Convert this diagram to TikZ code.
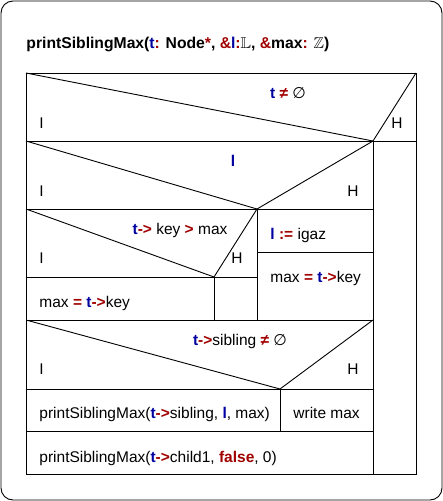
\documentclass[tikz,border=0pt]{standalone}
\usepackage{amssymb}
\usepackage{fontspec}
\setmainfont{Liberation Sans}
\newfontfamily\dvfont{DejaVu Sans}
\definecolor{kb}{RGB}{0,0,160}
\definecolor{kr}{RGB}{160,0,0}
\newcommand\kB[1]{\textcolor{kb}{\bfseries #1}}
\newcommand\kR[1]{\textcolor{kr}{\bfseries #1}}
\newcommand\emptyS{{\dvfont\char"2205}}
\begin{document}
\begin{tikzpicture}[x=1pt,y=-1pt, line width=0.9pt,
  txt/.style={inner sep=0pt, anchor=base west, font=\fontsize{15.5}{18}\selectfont},
  ctxt/.style={txt, anchor=base},
  etxt/.style={txt, anchor=base east}]
\useasboundingbox (0,0) rectangle (443,501);
\draw[rounded corners=12pt] (1,1) rectangle (442,500);
\node[txt, font=\fontsize{15.7}{19}\selectfont\bfseries] (title) at (26,48)
  {printSiblingMax(\textcolor{kb}{t}\textcolor{kr}{:} Node\textcolor{kr}{*}, \textcolor{kr}{\&}\textcolor{kb}{l}\textcolor{kr}{:}$\mathbb{L}$, \textcolor{kr}{\&}max\textcolor{kr}{:} $\mathbb{Z}$)};
% frame
\draw (26,73) rectangle (416,474);
% row 1
\draw (26,73) -- (373,141) -- (416,73);
\draw (26,141) -- (416,141);
\draw (373,141) -- (373,474);
% row 2
\draw (26,141) -- (257,209) -- (373,141);
\draw (26,209) -- (373,209);
% row 3
\draw (26,209) -- (214,277) -- (257,209);
\draw (26,277) -- (257,277);
\draw (214,277) -- (214,320);
\draw (257,209) -- (257,320);
\draw (257,252) -- (373,252);
\draw (26,320) -- (373,320);
% row 4
\draw (26,320) -- (280,389) -- (373,320);
\draw (26,389) -- (373,389);
\draw (280,389) -- (280,431);
\draw (26,431) -- (373,431);
% texts
\node[ctxt] (c1) at (288,98) {\kB{t} \kR{≠} \emptyS};
\node[txt] (i1) at (39,128) {I};
\node[etxt] (h1) at (403,128) {H};
\node[ctxt] (c2) at (233,166) {\kB{l}};
\node[txt] (i2) at (39,196) {I};
\node[etxt] (h2) at (359,196) {H};
\node[ctxt] (c3) at (180,234) {\kB{t}\kR{->} key \kR{>} max};
\node[txt] (i3) at (39,263) {I};
\node[etxt] (h3) at (243,263) {H};
\node[txt] (m1) at (39,307) {max \kR{=} \kB{t}\kR{->}key};
\node[txt] (l1) at (270,239) {\kB{l} \kR{:=} igaz};
\node[txt] (m2) at (270,282) {max \kR{=} \kB{t}\kR{->}key};
\node[ctxt] (c4) at (240,345) {\kB{t}\kR{->}sibling \kR{≠} \emptyS};
\node[txt] (i4) at (39,374) {I};
\node[etxt] (h4) at (359,374) {H};
\node[txt] (p1) at (39,418) {printSiblingMax(\kB{t}\kR{->}sibling, \kB{l}, max)};
\node[txt] (w1) at (293,418) {write max};
\node[txt] (p2) at (39,462) {printSiblingMax(\kB{t}\kR{->}child1, \kR{false}, 0)};
\end{tikzpicture}
\end{document}
